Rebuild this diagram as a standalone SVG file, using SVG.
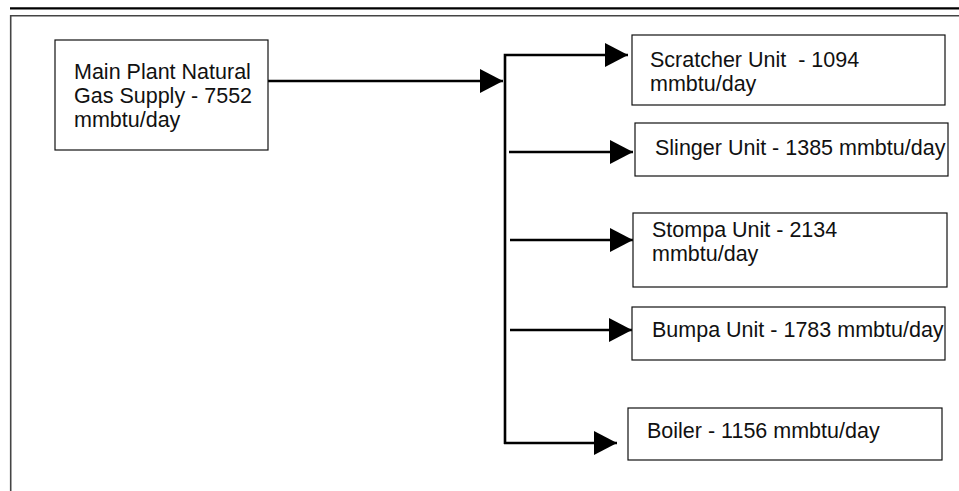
<svg xmlns="http://www.w3.org/2000/svg" width="959" height="491" viewBox="0 0 959 491">
<style>
.box{fill:#fff;stroke:#111;stroke-width:1.2}
.lbl{font-family:"Liberation Sans",Arial,sans-serif;font-size:21.5px;fill:#111;white-space:pre}
.con{fill:none;stroke:#000;stroke-width:2.6}
</style>
<defs>
<marker id="ah" markerUnits="userSpaceOnUse" markerWidth="24" markerHeight="24" refX="23" refY="12" orient="auto">
<path d="M0,0 L23,12 L0,24 z" fill="#000"/>
</marker>
</defs>
<rect width="959" height="491" fill="#fff"/>
<g id="frame">
<line x1="10" y1="8.3" x2="959" y2="8.3" stroke="#000" stroke-width="2.2"/>
<path d="M10.7,491 L10.7,15.7 L959,15.7" fill="none" stroke="#444" stroke-width="1.6"/>
</g>
<g id="connectors">
<path class="con" d="M268,81 L503,81" marker-end="url(#ah)"/>
<path class="con" d="M505,444 L505,55 L628,55" marker-end="url(#ah)"/>
<path class="con" d="M509,152 L633,152" marker-end="url(#ah)"/>
<path class="con" d="M510,240 L633,240" marker-end="url(#ah)"/>
<path class="con" d="M510,330 L632,330" marker-end="url(#ah)"/>
<path class="con" d="M504,443 L617,443" marker-end="url(#ah)"/>
</g>
<g id="main">
<rect class="box" x="55" y="40" width="213" height="110"/>
<text class="lbl" x="74" y="79">Main Plant Natural</text>
<text class="lbl" x="74" y="103">Gas Supply - 7552</text>
<text class="lbl" x="74" y="127">mmbtu/day</text>
</g>
<g id="scratcher">
<rect class="box" x="632" y="35" width="313" height="70"/>
<text class="lbl" x="650" y="67">Scratcher Unit  - 1094</text>
<text class="lbl" x="650" y="91">mmbtu/day</text>
</g>
<g id="slinger">
<rect class="box" x="635" y="123" width="313" height="53"/>
<text class="lbl" x="655" y="155">Slinger Unit - 1385 mmbtu/day</text>
</g>
<g id="stompa">
<rect class="box" x="633" y="213" width="314" height="74"/>
<text class="lbl" x="652" y="237">Stompa Unit - 2134</text>
<text class="lbl" x="652" y="261">mmbtu/day</text>
</g>
<g id="bumpa">
<rect class="box" x="632" y="307" width="313" height="53"/>
<text class="lbl" x="652" y="337">Bumpa Unit - 1783 mmbtu/day</text>
</g>
<g id="boiler">
<rect class="box" x="628" y="408" width="314" height="52"/>
<text class="lbl" x="647" y="438">Boiler - 1156 mmbtu/day</text>
</g>
</svg>
